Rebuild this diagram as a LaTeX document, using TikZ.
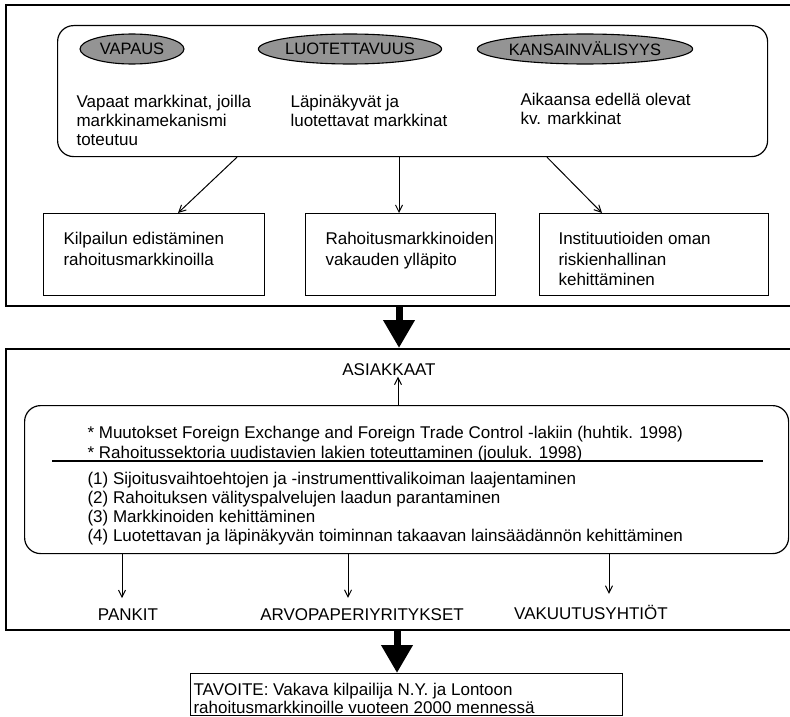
\documentclass[tikz,border=0pt]{standalone}
\usepackage{fontspec}
\setmainfont{Liberation Sans}
\usetikzlibrary{shapes.geometric,arrows.meta}

\begin{document}
\begin{tikzpicture}[x=1pt, y=-1pt, line width=1.1pt,
  font=\fontsize{17}{19}\selectfont,
  frame/.style={draw, line width=1.6pt, minimum width=800pt, anchor=north west},
  panel/.style={draw, line width=1.2pt, rounded corners=16pt, anchor=north west},
  goal/.style={draw, fill=black!42, ellipse, inner sep=0pt,
    minimum width=#1, minimum height=30pt, font=\fontsize{16.5}{18}\selectfont},
  box/.style={draw, anchor=north west, minimum height=82pt},
  txt/.style={align=left, anchor=north west, inner sep=0pt},
  sector/.style={inner sep=0pt},
  link/.style={line width=1pt, -{Straight Barb[length=7pt,width=7pt]}},
  bigarrow/.style={line width=7pt, -{Triangle[length=28pt,width=30pt]}}]
  \useasboundingbox (0,0) rectangle (790,717);

  \node[frame, minimum height=301pt] (upper) at (5,4) {};
  \node[panel, minimum width=710pt, minimum height=131pt] (values) at (57,25) {};
  \node[goal=104pt] (freedom) at (132,49) {VAPAUS};
  \node[goal=146pt] (trust) at (350,49) {LUOTETTAVUUS};
  \node[goal=156pt] (intl) at (585,49) {KANSAINVÄLISYYS};
  \node[txt] (freedomtxt) at (76,95) {Vapaat markkinat, joilla\\markkinamekanismi\\toteutuu};
  \node[txt] (trusttxt) at (290,95) {Läpinäkyvät ja\\luotettavat markkinat};
  \node[txt] (intltxt) at (520,93) {Aikaansa edellä olevat\\kv. markkinat};

  \node[box, minimum width=221pt] (compet) at (43,213) {};
  \node[box, minimum width=190pt] (stab) at (305,213) {};
  \node[box, minimum width=229pt] (risk) at (539,213) {};
  \node[txt, font=\fontsize{17}{20.5}\selectfont] (competxt) at (63,232)
    {Kilpailun edistäminen\\rahoitusmarkkinoilla};
  \node[txt, font=\fontsize{17}{20.5}\selectfont] (stabtxt) at (325,232)
    {Rahoitusmarkkinoiden\\vakauden ylläpito};
  \node[txt, font=\fontsize{17}{20.5}\selectfont] (risktxt) at (558,232)
    {Instituutioiden oman\\riskienhallinan\\kehittäminen};

  \draw[link] (237,0 |- values.south) -- (178,0 |- compet.north);
  \draw[link] (399,0 |- values.south) -- (399,0 |- stab.north);
  \draw[link] (547,0 |- values.south) -- (602,0 |- risk.north);

  \node[frame, minimum height=281pt] (lower) at (5,348) {};
  \draw[bigarrow] (399,0 |- upper.south) -- (399,0 |- lower.north);

  \node[sector] (clients) at (389,370) {ASIAKKAAT};
  \node[panel, minimum width=764pt, minimum height=148pt] (means) at (24,405) {};
  \draw[link] (398,0 |- means.north) -- (398,0 |- clients.south);
  \node[txt, font=\fontsize{17}{20}\selectfont] (laws) at (87,426)
    {* Muutokset Foreign Exchange and Foreign Trade Control -lakiin (huhtik. 1998)\\
     * Rahoitussektoria uudistavien lakien toteuttaminen (jouluk. 1998)};
  \draw (52,461) -- (763,461);
  \node[txt] (aims) at (87,472)
    {(1) Sijoitusvaihtoehtojen ja -instrumenttivalikoiman laajentaminen\\
     (2) Rahoituksen välityspalvelujen laadun parantaminen\\
     (3) Markkinoiden kehittäminen\\
     (4) Luotettavan ja läpinäkyvän toiminnan takaavan lainsäädännön kehittäminen};

  \node[sector, outer ysep=11pt] (banks) at (128,615) {PANKIT};
  \node[sector, outer ysep=11pt] (brokers) at (362,615) {ARVOPAPERIYRITYKSET};
  \node[sector, outer ysep=11pt] (insur) at (591,612) {VAKUUTUSYHTIÖT};
  \draw[link] (122,0 |- means.south) -- (122,0 |- banks.north);
  \draw[link] (348,0 |- means.south) -- (348,0 |- brokers.north);
  \draw[link] (609,0 |- means.south) -- (609,0 |- insur.north);

  \node[draw, anchor=north west, minimum width=432pt, minimum height=42pt] (target) at (190,673) {};
  \draw[bigarrow] (397,0 |- lower.south) -- (397,0 |- target.north);
  \node[txt, font=\fontsize{17}{18}\selectfont] (targettxt) at (193,683)
    {TAVOITE: Vakava kilpailija N.Y. ja Lontoon\\rahoitusmarkkinoille vuoteen 2000 mennessä};
\end{tikzpicture}
\end{document}
